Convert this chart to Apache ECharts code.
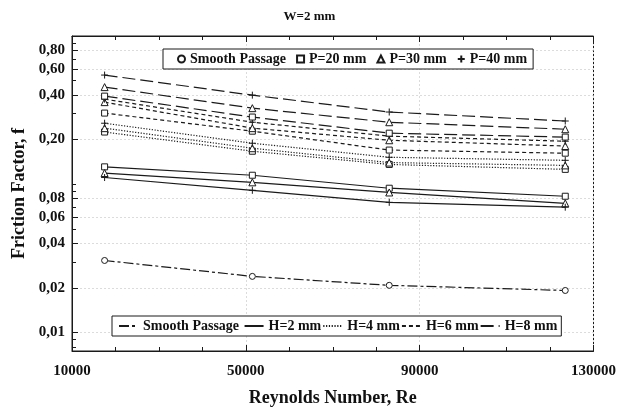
<!DOCTYPE html>
<html>
<head>
<meta charset="utf-8">
<script src="https://cdn.jsdelivr.net/npm/echarts@6/dist/echarts.min.js"></script>
<style>
  html, body { margin: 0; padding: 0; background: #fff; }
  #chart { width: 619px; height: 412px; }
</style>
</head>
<body>
<div id="chart"></div>
<script>
// Reynolds numbers of the four measurement stations
const reynolds = [17500, 51500, 83000, 123500];

// Friction factor f, smooth passage and ribbed cases (H = rib height, P = rib pitch)
const smooth = [0.0306, 0.0239, 0.0208, 0.0192];
const h2p20 = [0.131, 0.115, 0.094, 0.083];
const h2p30 = [0.119, 0.103, 0.088, 0.0744];
const h2p40 = [0.111, 0.091, 0.0755, 0.070];
const h4p20 = [0.225, 0.167, 0.136, 0.126];
const h4p30 = [0.239, 0.175, 0.140, 0.134];
const h4p40 = [0.258, 0.189, 0.152, 0.145];
const h6p20 = [0.302, 0.228, 0.170, 0.162];
const h6p30 = [0.358, 0.239, 0.198, 0.181];
const h6p40 = [0.375, 0.262, 0.211, 0.195];
const h8p20 = [0.393, 0.284, 0.221, 0.208];
const h8p30 = [0.452, 0.326, 0.262, 0.235];
const h8p40 = [0.545, 0.399, 0.307, 0.267];

// Axis ticks
const yLabelValues = [0.01, 0.02, 0.04, 0.06, 0.08, 0.2, 0.4, 0.6, 0.8];
const yMinorValues = [0.008, 0.009, 0.01, 0.02, 0.03, 0.04, 0.05, 0.06, 0.07, 0.08, 0.09,
                      0.1, 0.2, 0.3, 0.4, 0.5, 0.6, 0.7, 0.8, 0.9, 1];
const xTickValues = [10000, 50000, 90000, 130000];

const INK = '#1a1a1a';
const FONT = 'Liberation Serif';
const PLUS = 'path://M5,0L5,10M0,5L10,5';

const dashStyles = {
  smooth: [10, 3, 3, 3],
  h2: 'solid',
  h4: [1.2, 1.6],
  h6: [4, 3],
  h8: [13, 5]
};
const markers = {
  p20: { symbol: 'rect', size: 6 },
  p30: { symbol: 'triangle', size: 7 },
  p40: { symbol: PLUS, size: 7 }
};

function pairs(vals) {
  return vals.map((v, i) => [reynolds[i], v]);
}

function curve(name, vals, dash, marker) {
  return {
    name: name,
    type: 'line',
    data: pairs(vals),
    symbol: marker.symbol,
    symbolSize: marker.size,
    showAllSymbol: true,
    lineStyle: { color: INK, width: 1.2, type: dash },
    itemStyle: { color: '#fff', borderColor: INK, borderWidth: 1 },
    z: 3
  };
}

const series = [
  curve('Smooth Passage', smooth, dashStyles.smooth, { symbol: 'circle', size: 6 }),
  curve('h2p20', h2p20, dashStyles.h2, markers.p20),
  curve('h2p30', h2p30, dashStyles.h2, markers.p30),
  curve('h2p40', h2p40, dashStyles.h2, markers.p40),
  curve('h4p20', h4p20, dashStyles.h4, markers.p20),
  curve('h4p30', h4p30, dashStyles.h4, markers.p30),
  curve('h4p40', h4p40, dashStyles.h4, markers.p40),
  curve('h6p20', h6p20, dashStyles.h6, markers.p20),
  curve('h6p30', h6p30, dashStyles.h6, markers.p30),
  curve('h6p40', h6p40, dashStyles.h6, markers.p40),
  curve('h8p20', h8p20, dashStyles.h8, markers.p20),
  curve('h8p30', h8p30, dashStyles.h8, markers.p30),
  curve('h8p40', h8p40, dashStyles.h8, markers.p40)
];

// Key entries: marker shapes (pitch) and line patterns (rib height)
function markerKey(name, marker) {
  return {
    name: name, type: 'line', data: [],
    symbol: marker.symbol, symbolSize: marker.size,
    lineStyle: { color: INK, width: 1 },
    itemStyle: { color: '#fff', borderColor: INK, borderWidth: 1 }
  };
}
function lineKey(name, dash) {
  return {
    name: name, type: 'line', data: [],
    symbol: 'none',
    lineStyle: { color: INK, width: 1.2, type: dash },
    itemStyle: { color: INK }
  };
}
series.push(
  markerKey('P=20 mm', markers.p20),
  markerKey('P=30 mm', markers.p30),
  markerKey('P=40 mm', markers.p40),
  lineKey('Smooth Passage ', dashStyles.smooth),
  lineKey('H=2 mm', dashStyles.h2),
  lineKey('H=4 mm', dashStyles.h4),
  lineKey('H=6 mm', dashStyles.h6),
  lineKey('H=8 mm', dashStyles.h8)
);

const legendText = { fontFamily: FONT, fontWeight: 'bold', fontSize: 14, color: '#111' };
const gridLine = { show: true, lineStyle: { color: '#dcdcdc', width: 1, type: [2, 2] } };

const chart = echarts.init(document.getElementById('chart'), null, { renderer: 'canvas' });
chart.setOption({
  animation: false,
  backgroundColor: '#fff',
  title: {
    text: 'W=2 mm',
    left: 'center',
    top: 5,
    textStyle: { fontFamily: FONT, fontWeight: 'bold', fontSize: 13, color: '#111' }
  },
  grid: {
    left: 72, right: 21, top: 36, bottom: 61,
    show: true, borderColor: INK, borderWidth: 1, backgroundColor: 'transparent'
  },
  legend: [
    {
      left: 163, top: 49,
      orient: 'horizontal',
      padding: [3, 6, 3, 14],
      itemGap: 10,
      itemWidth: 7, itemHeight: 7,
      borderColor: INK, borderWidth: 1, backgroundColor: '#fff',
      textStyle: legendText,
      selectedMode: false,
      data: [
        { name: 'Smooth Passage', icon: 'circle' },
        { name: 'P=20 mm', icon: 'rect' },
        { name: 'P=30 mm', icon: 'triangle' },
        { name: 'P=40 mm', icon: PLUS }
      ]
    },
    {
      left: 112, top: 316,
      orient: 'horizontal',
      padding: [3, 4, 3, 6],
      itemGap: 1,
      itemWidth: 19, itemHeight: 10,
      borderColor: INK, borderWidth: 1, backgroundColor: '#fff',
      textStyle: legendText,
      itemStyle: { opacity: 0 },
      selectedMode: false,
      data: ['Smooth Passage ', 'H=2 mm', 'H=4 mm', 'H=6 mm', 'H=8 mm']
    }
  ],
  xAxis: [
    {
      type: 'value',
      min: 10000, max: 130000, interval: 40000,
      position: 'bottom',
      name: 'Reynolds Number, Re',
      nameLocation: 'middle',
      nameGap: 38,
      nameTextStyle: { fontFamily: FONT, fontWeight: 'bold', fontSize: 18, color: '#111' },
      axisLine: { show: true, lineStyle: { color: INK } },
      axisTick: { show: true, inside: true, length: 6, lineStyle: { color: INK } },
      minorTick: { show: true, splitNumber: 4, length: 4, lineStyle: { color: INK } },
      axisLabel: {
        margin: 13,
        fontFamily: FONT, fontWeight: 'bold', fontSize: 15, color: '#111',
        customValues: xTickValues,
        formatter: v => String(v)
      },
      splitLine: gridLine
    },
    {
      type: 'value',
      min: 10000, max: 130000, interval: 40000,
      position: 'top',
      axisLine: { show: true, lineStyle: { color: INK } },
      axisTick: { show: true, inside: true, length: 6, lineStyle: { color: INK } },
      minorTick: { show: true, splitNumber: 4, length: 4, lineStyle: { color: INK } },
      axisLabel: { show: false },
      splitLine: { show: false }
    }
  ],
  yAxis: [
    {
      type: 'log',
      logBase: 10,
      min: 0.0075, max: 1,
      position: 'left',
      name: 'Friction Factor, f',
      nameLocation: 'middle',
      nameGap: 44,
      nameTextStyle: { fontFamily: FONT, fontWeight: 'bold', fontSize: 18, color: '#111' },
      axisLine: { show: true, lineStyle: { color: INK } },
      axisTick: { show: true, inside: true, length: 6, customValues: yLabelValues, lineStyle: { color: INK } },
      axisLabel: {
        margin: 7,
        fontFamily: FONT, fontWeight: 'bold', fontSize: 15, color: '#111',
        customValues: yLabelValues,
        formatter: v => Number(v).toFixed(2).replace('.', ',')
      },
      splitLine: gridLine
    },
    {
      type: 'log',
      logBase: 10,
      min: 0.0075, max: 1,
      position: 'left',
      axisLine: { show: false },
      axisTick: { show: true, inside: true, length: 4, customValues: yMinorValues, lineStyle: { color: INK } },
      axisLabel: { show: false },
      splitLine: { show: false }
    }
  ],
  series: series
});
</script>
</body>
</html>
